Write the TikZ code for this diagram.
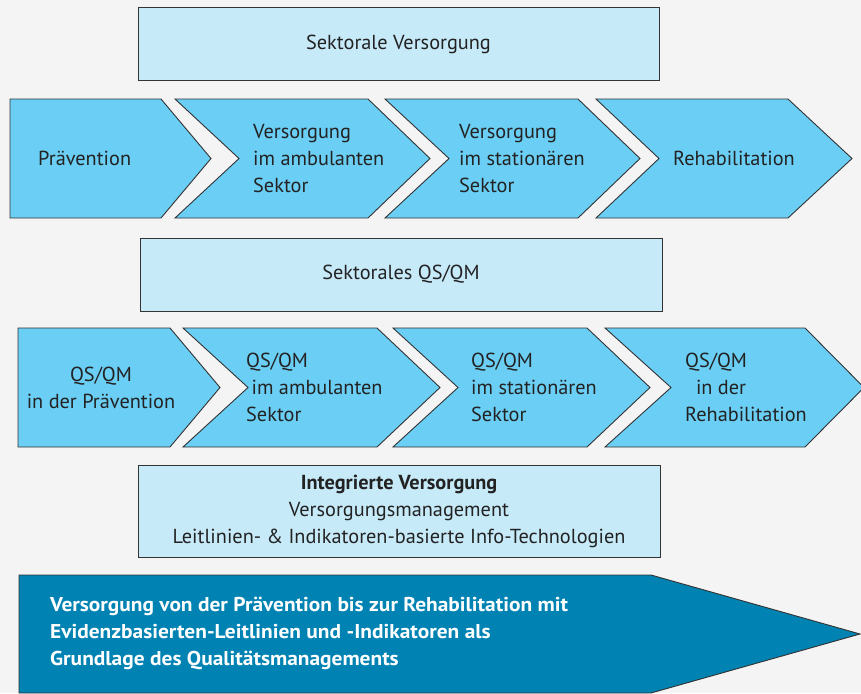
\documentclass[tikz,border=0pt]{standalone}
\usepackage{fontspec}
\setmainfont{PT Sans}
\newfontfamily\widefont[FakeStretch=1.07]{PT Sans}
\definecolor{bgc}{HTML}{F4F4F4}
\definecolor{arrowc}{HTML}{6BCFF5}
\definecolor{boxc}{HTML}{C7EAF9}
\definecolor{darkc}{HTML}{0083B3}
\definecolor{linec}{HTML}{333333}
\definecolor{textc}{HTML}{222222}
\begin{document}
\begin{tikzpicture}[x=1pt,y=-1pt,
  shp/.style={draw=linec, line width=0.9pt, line join=miter},
  arr/.style={shp, fill=arrowc},
  bx/.style={shp, fill=boxc},
  lbl/.style={font=\fontsize{20.3}{27}\selectfont, text=textc, inner sep=0pt, align=left, anchor=west},
  clbl/.style={font=\fontsize{20.3}{27}\selectfont, text=textc, inner sep=0pt, align=center, anchor=center}]
\fill[bgc] (0,0) rectangle (861,693);
\useasboundingbox (0,0) rectangle (861,693);
% top box
\draw[bx] (138,7) rectangle (659,80);
\node[clbl] (t1) at (398.5,44) {Sektorale Versorgung};
% row 1 arrows
\draw[arr] (10,99) -- (161,99) -- (211,158.5) -- (161,218) -- (10,218) -- cycle;
\draw[arr] (175,99) -- (368,99) -- (430,158.5) -- (368,218) -- (175,218) -- (239,158.5) -- cycle;
\draw[arr] (385,99) -- (578,99) -- (640,158.5) -- (578,218) -- (385,218) -- (449,158.5) -- cycle;
\draw[arr] (596,99) -- (788,99) -- (852,158.5) -- (788,218) -- (596,218) -- (659,158.5) -- cycle;
\node[lbl] (a1) at (38,158.5) {Prävention};
\node[lbl] (a2) at (253,158.5) {Versorgung\\im ambulanten\\Sektor};
\node[lbl] (a3) at (459,158.5) {Versorgung\\im stationären\\Sektor};
\node[lbl] (a4) at (673,158.5) {Rehabilitation};
% middle box
\draw[bx] (140,238) rectangle (662,311);
\node[clbl] (t2) at (401,274.5) {Sektorales QS/QM};
% row 2 arrows
\draw[arr] (18,328) -- (170,328) -- (220,387.5) -- (170,447) -- (18,447) -- cycle;
\draw[arr] (183,328) -- (377,328) -- (440,387.5) -- (377,447) -- (183,447) -- (248,387.5) -- cycle;
\draw[arr] (393,328) -- (587,328) -- (650,387.5) -- (587,447) -- (393,447) -- (458,387.5) -- cycle;
\draw[arr] (605,328) -- (805,328) -- (864,387.5) -- (805,447) -- (605,447) -- (671,387.5) -- cycle;
\node[clbl] (b1) at (101,387.5) {QS/QM\\in der Prävention};
\node[lbl] (b2) at (246,387.5) {QS/QM\\\ im ambulanten\\Sektor};
\node[lbl] (b3) at (471,387.5) {QS/QM\\im stationären\\Sektor};
\node[lbl] (b4) at (685,387.5) {QS/QM\\\ \ in der\\Rehabilitation};
% lower box
\draw[bx] (138,465) rectangle (660,557);
\node[clbl] (t3) at (399,511) {\textbf{Integrierte Versorgung}\\Versorgungsmanagement\\Leitlinien- \& Indikatoren-basierte Info-Technologien};
% bottom arrow
\draw[shp, fill=darkc] (19,575) -- (651,575) -- (860,634) -- (651,693) -- (19,693) -- cycle;
\node[lbl, text=white, font=\widefont\bfseries\fontsize{20}{27}\selectfont] (bt) at (50,633) {Versorgung von der Prävention bis zur Rehabilitation mit\\Evidenzbasierten-Leitlinien und -Indikatoren als\\Grundlage des Qualitätsmanagements};
\end{tikzpicture}
\end{document}
